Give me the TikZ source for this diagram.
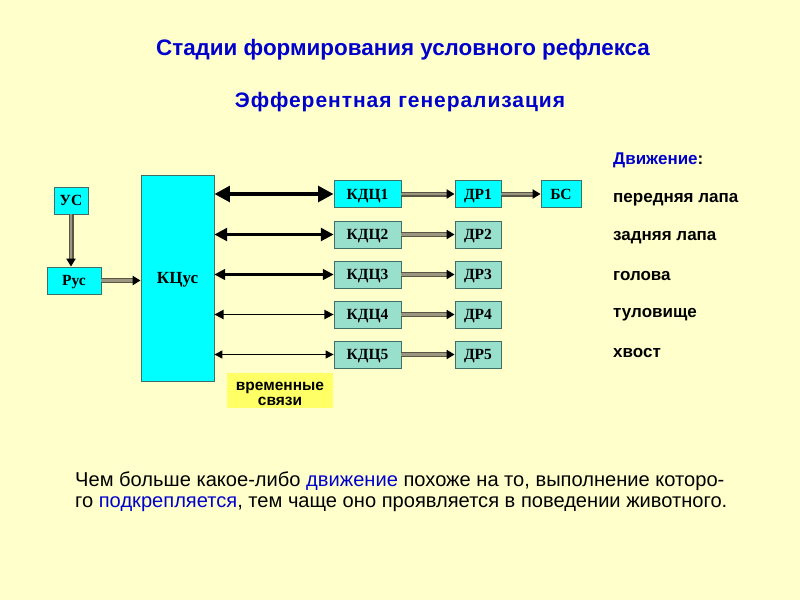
\documentclass[tikz,border=0pt]{standalone}
\usepackage{fontspec}
\setmainfont{Liberation Serif}
\setsansfont{Liberation Sans}
\usetikzlibrary{arrows.meta}
\definecolor{bg}{HTML}{FFFFCC}
\definecolor{cy}{HTML}{00FFFF}
\definecolor{tl}{HTML}{99E0CC}
\definecolor{bd}{HTML}{3F6F66}
\definecolor{ttl}{HTML}{0000CC}
\definecolor{hl}{HTML}{FFFF66}
\definecolor{ga}{HTML}{9C9680}
\definecolor{gd}{HTML}{5A5646}
\tikzset{
  box/.style={draw=bd, line width=0.8pt, font=\rmfamily\bfseries\fontsize{15.5}{17}\selectfont, inner sep=0pt, anchor=center, text height=10.5pt, text depth=0pt},
  cbox/.style={box, fill=cy},
  tbox/.style={box, fill=tl},
  garrow/.style={preaction={draw=gd, line width=5pt, -, shorten >=7pt},
    draw=ga, line width=2.6pt, -{Triangle[length=8pt,width=9pt,color=black]}},
  barrow/.style={draw=black, {Triangle[length=#1*2.6pt+5pt,width=#1*2.6pt+5pt]}-{Triangle[length=#1*2.6pt+5pt,width=#1*2.6pt+5pt]}, line width=#1pt},
  lbl/.style={font=\sffamily\bfseries\fontsize{17}{20}\selectfont, anchor=west, inner sep=0pt},
}
\begin{document}
\begin{tikzpicture}[x=1pt,y=-1pt]
\fill[bg] (0,0) rectangle (800,600);
\useasboundingbox (0,0) rectangle (800,600);

\node[font=\sffamily\bfseries\fontsize{22.4}{26}\selectfont, text=ttl] (t1) at (403,50) {Стадии формирования условного рефлекса};
\node[font=\sffamily\bfseries\fontsize{21}{26}\selectfont\addfontfeature{LetterSpace=4.5}, text=ttl] (t2) at (400,102) {Эфферентная генерализация};

\node[cbox, minimum width=34pt, minimum height=27pt] (us) at (71,200.5) {УС};
\node[cbox, minimum width=54pt, minimum height=27pt] (rus) at (74,280.5) {Рус};
\node[cbox, minimum width=73pt, minimum height=206pt, font=\rmfamily\bfseries\fontsize{17}{19}\selectfont] (kc) at (177.5,278) {КЦус};

\foreach \i/\y/\s in {1/194/cbox,2/234.5/tbox,3/274.5/tbox,4/314.5/tbox,5/354.5/tbox}{
  \node[\s, minimum width=67pt, minimum height=27pt] (k\i) at (367.5,\y) {КДЦ\i};
  \node[\s, minimum width=46pt, minimum height=27pt] (d\i) at (478,\y) {ДР\i};
  \draw[garrow] (k\i.east) -- (d\i.west);
}
\node[cbox, minimum width=40pt, minimum height=27pt] (bs) at (561,194) {БС};
\draw[garrow] (d1.east) -- (bs.west);

\draw[garrow] (us.south) -- (us.south |- rus.north);
\draw[garrow] (rus.east) -- (rus.east -| kc.west);

\draw[barrow=4] (k1.west -| kc.east) -- (k1.west);
\draw[barrow=3] (k2.west -| kc.east) -- (k2.west);
\draw[barrow=2.2] (k3.west -| kc.east) -- (k3.west);
\draw[barrow=1.6] (k4.west -| kc.east) -- (k4.west);
\draw[barrow=1.1] (k5.west -| kc.east) -- (k5.west);

\node[fill=hl, minimum width=106pt, minimum height=35pt, inner sep=0pt,
  label={[font=\sffamily\bfseries\fontsize{15.5}{15}\selectfont, align=center, yshift=-3pt]center:{временные\\связи}}] (vs) at (280,390.5) {};

\node[lbl] (m0) at (613,160) {\textcolor{ttl}{Движение}:};
\node[lbl] (m1) at (613,200) {передняя лапа};
\node[lbl] (m2) at (613,238) {задняя лапа};
\node[lbl] (m3) at (613,276) {голова};
\node[lbl] (m4) at (613,315) {туловище};
\node[lbl] (m5) at (613,353) {хвост};

\node[font=\sffamily\fontsize{20.1}{21}\selectfont, anchor=north west, align=left, inner sep=0pt] (bt) at (75,472)
{Чем больше какое-либо \textcolor{ttl}{движение} похоже на то, выполнение которо-\\го \textcolor{ttl}{подкрепляется}, тем чаще оно проявляется в поведении животного.};
\end{tikzpicture}
\end{document}
